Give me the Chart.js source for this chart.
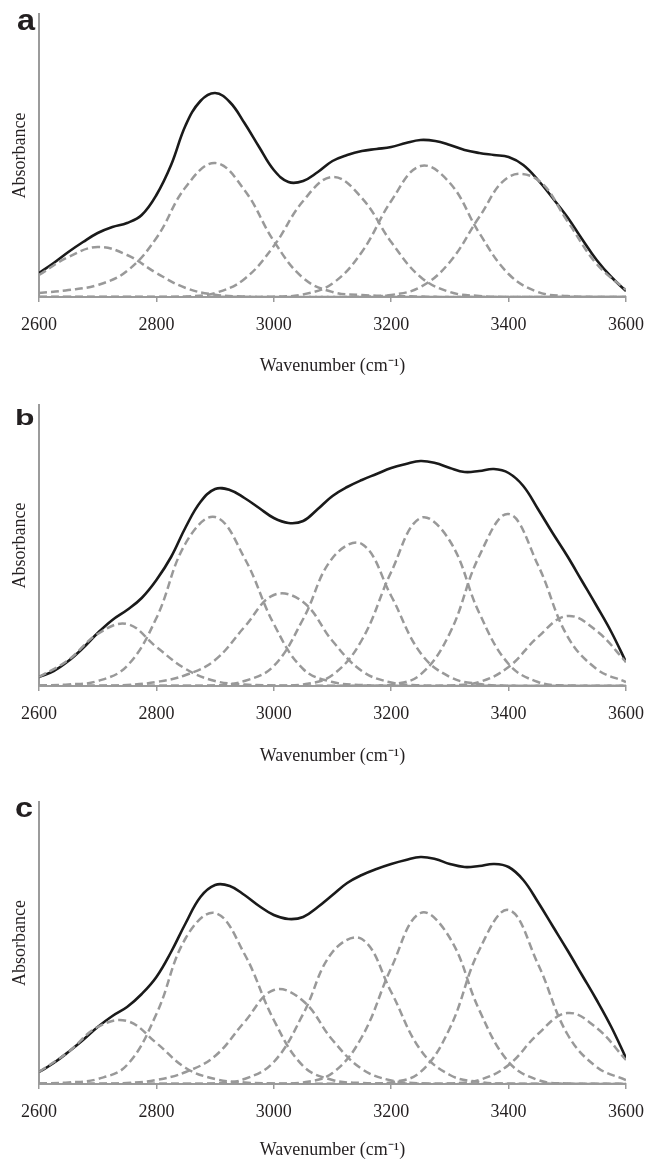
<!DOCTYPE html>
<html lang="en">
<head>
    <meta charset="UTF-8">
    <title>FTIR band deconvolution 2600-3600 cm-1</title>
    <script src="https://cdn.jsdelivr.net/npm/chart.js"></script>
    <style>
        body { margin: 0; background: #fff; }
        canvas { display: block; }
    </style>
</head>
<body>
    <canvas id="panelA" width="650" height="390"></canvas>
    <canvas id="panelB" width="650" height="388"></canvas>
    <canvas id="panelC" width="650" height="383"></canvas>

    <script>
        // wavenumber grids (cm-1): coarse one for the fitted bands, finer one for the measured spectrum
        const wavenumber = [2600, 2650, 2700, 2750, 2800, 2850, 2900, 2950, 3000, 3050, 3100,
                            3150, 3200, 3250, 3300, 3350, 3400, 3450, 3500, 3550, 3600];
        const spectrumWavenumber = [2600, 2625, 2650, 2675, 2700, 2725, 2750, 2775, 2800, 2825, 2850,
                                    2875, 2900, 2925, 2950, 2975, 3000, 3025, 3050, 3075, 3100,
                                    3125, 3150, 3175, 3200, 3225, 3250, 3275, 3300, 3325, 3350,
                                    3375, 3400, 3425, 3450, 3475, 3500, 3525, 3550, 3575, 3600];
        const xTicks = [2600, 2800, 3000, 3200, 3400, 3600];

        // panel a
        const aTotal = [24, 34, 45, 55, 64, 70, 74, 82, 102, 132, 172, 196, 204, 195, 174, 150, 127, 115, 116, 125, 136,
                        142, 146, 148, 150, 154, 157, 156, 152, 147, 144, 142, 140, 132, 117, 99, 80, 58, 37, 20, 6];
        const a1 = [22, 40, 50, 42, 24, 9, 2.3, 0.4, 0, 0, 0, 0, 0, 0, 0, 0, 0, 0, 0, 0, 0];
        const a2 = [4, 7, 12, 26, 59, 110, 134, 107, 56, 19, 5, 2, 1, 0.5, 0, 0, 0, 0, 0, 0, 0];
        const a3 = [0, 0, 0, 0, 0, 0.4, 4, 18, 51, 96, 120, 99, 55, 20, 5, 1, 0, 0, 0, 0, 0];
        const a4 = [0, 0, 0, 0, 0, 0, 0, 0, 0.3, 2.6, 13.5, 45, 96, 131, 114, 64, 23, 5, 1, 0, 0];
        const a5 = [0, 0, 0, 0, 0, 0, 0, 0, 0, 0, 0, 0.2, 2, 10, 35, 80, 120, 117, 76, 33, 7];

        // panel b
        const bTotal = [9, 15, 25, 38, 53, 66, 76, 88, 106, 129, 159, 184, 197, 196, 188, 178, 168, 163, 165, 177, 190,
                        199, 206, 212, 218, 222, 225, 223, 218, 214, 215, 217, 213, 200, 177, 153, 130, 105, 80, 54, 24];
        const b1 = [9, 26, 52, 62, 39, 17, 5, 1.5, 0.5, 0, 0, 0, 0, 0, 0, 0, 0, 0, 0, 0, 0];
        const b2 = [0.5, 1.5, 5, 20, 68, 143, 169, 128, 62, 17, 4, 1, 0.3, 0, 0, 0, 0, 0, 0, 0, 0];
        const b3 = [0, 0, 0, 1, 4, 11, 26, 59, 91, 84, 45, 15, 3.5, 0.7, 0, 0, 0, 0, 0, 0, 0];
        const b4 = [0, 0, 0, 0, 0, 0, 0.4, 5, 20, 67, 128, 142, 90, 33, 9, 2, 0.3, 0, 0, 0, 0];
        const b5 = [0, 0, 0, 0, 0, 0, 0, 0, 0.1, 1.5, 11, 46, 114, 168, 145, 73, 22, 4, 0.4, 0, 0];
        const b6 = [0, 0, 0, 0, 0, 0, 0, 0, 0, 0, 0, 0.1, 1.3, 11.5, 53, 130, 172, 121, 50, 17, 4];
        const b7 = [0, 0, 0, 0, 0, 0, 0, 0, 0, 0, 0, 0, 0, 0, 0.5, 4, 19, 49, 70, 55, 24];

        // panel c
        const cTotal = [12, 21, 32, 44, 57, 68, 77, 90, 107, 132, 161, 187, 199, 198, 189, 178, 169, 165, 167, 177, 189,
                        201, 209, 215, 220, 224, 227, 225, 220, 217, 218, 220, 217, 204, 182, 158, 134, 109, 84, 57, 26];
        const c1 = [12, 32, 57, 63, 41, 16, 5, 1.5, 0.5, 0, 0, 0, 0, 0, 0, 0, 0, 0, 0, 0, 0];
        const c2 = [0.5, 1.5, 5, 19, 70, 146, 171, 130, 64, 18, 4, 1, 0.3, 0, 0, 0, 0, 0, 0, 0, 0];
        const c3 = [0, 0, 0, 1, 4, 12, 28, 62, 94, 83, 44, 15, 3.5, 0.7, 0, 0, 0, 0, 0, 0, 0];
        const c4 = [0, 0, 0, 0, 0, 0, 0.4, 5, 22, 70, 132, 145, 92, 34, 9, 2, 0.3, 0, 0, 0, 0];
        const c5 = [0, 0, 0, 0, 0, 0, 0, 0, 0.1, 1.5, 11, 47, 116, 171, 146, 74, 22, 4, 0.4, 0, 0];
        const c6 = [0, 0, 0, 0, 0, 0, 0, 0, 0, 0, 0, 0.1, 1.5, 12, 56, 134, 174, 120, 50, 17, 4];
        const c7 = [0, 0, 0, 0, 0, 0, 0, 0, 0, 0, 0, 0, 0, 0, 0.5, 4, 19, 50, 71, 56, 24];

        const serif = '"Liberation Serif", "Times New Roman", serif';
        const axisGray = '#9b9b9b';
        const textColor = '#231f20';

        // bold panel letter in the top left corner
        const panelLetter = {
            id: 'panelLetter',
            afterDraw(chart, args, opts) {
                const ctx = chart.ctx;
                ctx.save();
                ctx.translate(opts.x, opts.y);
                ctx.scale(opts.sx, 1);
                ctx.font = 'bold ' + opts.size + 'px "Liberation Sans", Arial, sans-serif';
                ctx.fillStyle = textColor;
                ctx.textBaseline = 'alphabetic';
                ctx.fillText(opts.text, 0, 0);
                ctx.restore();
            }
        };

        function toPoints(xs, vals) {
            return xs.map((w, i) => ({ x: w, y: vals[i] }));
        }

        function makePanel(canvasId, total, bands, p) {
            const datasets = bands.map((vals, i) => ({
                label: 'band ' + (i + 1),
                data: toPoints(wavenumber, vals),
                borderColor: '#999999',
                borderWidth: 2.5,
                borderDash: [8, 4],
                pointRadius: 0,
                tension: 0.4,
                fill: false
            }));
            // spectrum last so the dashed bands sit on top of it
            datasets.push({
                label: 'spectrum',
                data: toPoints(spectrumWavenumber, total),
                borderColor: '#1a1a1a',
                borderWidth: 2.6,
                pointRadius: 0,
                tension: 0.4,
                fill: false
            });

            return new Chart(document.getElementById(canvasId), {
                type: 'line',
                data: { datasets: datasets },
                plugins: [panelLetter],
                options: {
                    responsive: false,
                    animation: false,
                    events: [],
                    layout: { padding: { top: p.top, right: 24, left: 0, bottom: 0 } },
                    plugins: {
                        legend: { display: false },
                        tooltip: { enabled: false },
                        panelLetter: p.letter
                    },
                    scales: {
                        x: {
                            type: 'linear',
                            min: 2600,
                            max: 3600,
                            afterBuildTicks: s => { s.ticks = xTicks.map(v => ({ value: v })); },
                            afterFit: s => {
                                s.height = p.h - p.axis;
                                s.paddingLeft = 0;
                                s.paddingRight = 0;
                            },
                            grid: { display: true, drawOnChartArea: false, tickLength: 5, color: axisGray, lineWidth: 1.5 },
                            border: { display: true, color: axisGray, width: 2 },
                            ticks: {
                                padding: 12,
                                color: textColor,
                                maxRotation: 0,
                                autoSkip: false,
                                font: { family: serif, size: 18 },
                                callback: v => String(v)
                            },
                            title: {
                                display: true,
                                text: 'Wavenumber (cm\u207B\u00B9)',
                                color: textColor,
                                font: { family: serif, size: 18 },
                                padding: { top: 0, bottom: p.titlePad }
                            }
                        },
                        y: {
                            min: 0,
                            max: p.axis - p.top,
                            afterFit: s => { s.width = 39; },
                            grid: { display: false },
                            ticks: { display: false },
                            border: { display: true, color: axisGray, width: 2 },
                            title: {
                                display: true,
                                text: 'Absorbance',
                                color: textColor,
                                font: { family: serif, size: 18 },
                                padding: { top: 9, bottom: 0 }
                            }
                        }
                    }
                }
            });
        }

        makePanel('panelA', aTotal, [a1, a2, a3, a4, a5],
            { h: 390, top: 14, axis: 297, titlePad: 13, letter: { text: 'a', x: 17, y: 30, size: 29, sx: 1.12 } });
        makePanel('panelB', bTotal, [b1, b2, b3, b4, b5, b6, b7],
            { h: 388, top: 15, axis: 296, titlePad: 11, letter: { text: 'b', x: 15, y: 35, size: 22, sx: 1.45 } });
        makePanel('panelC', cTotal, [c1, c2, c3, c4, c5, c6, c7],
            { h: 383, top: 24, axis: 306, titlePad: 0, letter: { text: 'c', x: 15, y: 39, size: 27, sx: 1.2 } });
    </script>
</body>
</html>
